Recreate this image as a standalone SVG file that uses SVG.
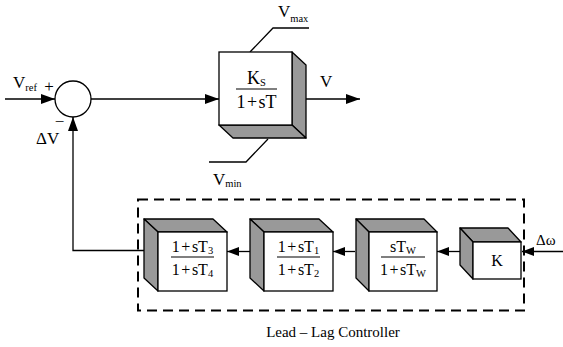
<svg xmlns="http://www.w3.org/2000/svg" width="563" height="347" viewBox="0 0 563 347" font-family="'Liberation Serif', 'DejaVu Serif', serif">
<style>
  text { font-family: "Liberation Serif", "DejaVu Serif", serif; fill: #000; }
  .lbl { font-size: 17px; }
  .fr { font-size: 16px; text-anchor: middle; }
  .frb { font-size: 18px; text-anchor: middle; }
  .sub { font-size: 10.5px; }
  .front { fill: #fff; stroke: #000; stroke-width: 1.3; }
  .side { fill: #999; stroke: #000; stroke-width: 1.3; stroke-linejoin: round; }
  .wire { fill: none; stroke: #000; stroke-width: 1.3; }
  .fline { stroke: #000; stroke-width: 1.2; }
</style>
<defs>
  <marker id="ah" viewBox="0 0 14 10" refX="14" refY="5" markerWidth="14" markerHeight="10" markerUnits="userSpaceOnUse" orient="auto">
    <path d="M0,0 L14,5 L0,10 z" fill="#000"/>
  </marker>
  <marker id="ahs" viewBox="0 0 12 9" refX="12" refY="4.5" markerWidth="12" markerHeight="9" markerUnits="userSpaceOnUse" orient="auto">
    <path d="M0,0 L12,4.5 L0,9 z" fill="#000"/>
  </marker>
</defs>

<!-- dashed controller frame -->
<g id="frame">
  <rect x="138" y="199.5" width="386" height="111" fill="none" stroke="#000" stroke-width="2" stroke-dasharray="10 6"/>
  <text x="333" y="337" font-size="15" text-anchor="middle">Lead – Lag Controller</text>
</g>

<g id="connectors">
  <line class="wire" x1="5" y1="99" x2="55" y2="99" marker-end="url(#ah)"/>
  <line class="wire" x1="91" y1="99" x2="219" y2="99" marker-end="url(#ah)"/>
  <line class="wire" x1="306" y1="99" x2="360" y2="99" marker-end="url(#ah)"/>
  <path class="wire" d="M144,250.5 H73 V117" marker-end="url(#ah)"/>
  <line class="wire" x1="460" y1="251.5" x2="437" y2="251.5" marker-end="url(#ahs)"/>
  <line class="wire" x1="355" y1="251.5" x2="333" y2="251.5" marker-end="url(#ahs)"/>
  <line class="wire" x1="250" y1="251.5" x2="227" y2="251.5" marker-end="url(#ahs)"/>
  <line class="wire" x1="563" y1="251.5" x2="522" y2="251.5" marker-end="url(#ahs)"/>
  <polyline class="wire" points="250,52 273,28 309,28"/>
  <polyline class="wire" points="268,139 246,162 209,162"/>
</g>

<g id="sum">
  <circle cx="73" cy="99" r="18" fill="#fff" stroke="#000" stroke-width="1.3"/>
  <text class="lbl" x="49" y="92" text-anchor="middle">+</text>
  <text class="lbl" x="59.5" y="127" text-anchor="middle">−</text>
</g>

<g id="labels">
  <text class="lbl" x="13" y="88">V<tspan class="sub" dy="3">ref</tspan></text>
  <text class="lbl" x="36" y="144">ΔV</text>
  <text class="lbl" x="278" y="17">V<tspan class="sub" dy="5">max</tspan></text>
  <text class="lbl" x="213" y="185">V<tspan class="sub" dy="2">min</tspan></text>
  <text class="lbl" x="320" y="87">V</text>
  <text x="536" y="245" font-size="15">Δω</text>
</g>

<g id="limiter">
  <polygon class="side" points="292,52 306,65 306,138 292,125"/>
  <polygon class="side" points="219,125 292,125 306,138 233,138"/>
  <rect class="front" x="219" y="52" width="73" height="73"/>
  <text class="frb" x="256.5" y="84">K<tspan class="sub" dy="2">S</tspan></text>
  <line class="fline" x1="236" y1="89" x2="277" y2="89"/>
  <text class="frb" x="256.5" y="108">1<tspan dx="1.5">+</tspan><tspan dx="1.5">sT</tspan></text>
</g>

<g id="leadlag2">
  <polygon class="side" points="144,219 213,219 227,232 158,232"/>
  <polygon class="side" points="144,219 158,232 158,291 144,278"/>
  <rect class="front" x="158" y="232" width="69" height="59"/>
  <text class="fr" x="192.5" y="252">1<tspan dx="1.5">+</tspan><tspan dx="1.5">sT</tspan><tspan class="sub" dy="2">3</tspan></text>
  <line class="fline" x1="171" y1="257" x2="214" y2="257"/>
  <text class="fr" x="192.5" y="275">1<tspan dx="1.5">+</tspan><tspan dx="1.5">sT</tspan><tspan class="sub" dy="2">4</tspan></text>
</g>

<g id="leadlag1">
  <polygon class="side" points="250,219 319,219 333,232 264,232"/>
  <polygon class="side" points="250,219 264,232 264,291 250,278"/>
  <rect class="front" x="264" y="232" width="69" height="59"/>
  <text class="fr" x="298.5" y="252">1<tspan dx="1.5">+</tspan><tspan dx="1.5">sT</tspan><tspan class="sub" dy="2">1</tspan></text>
  <line class="fline" x1="277" y1="257" x2="320" y2="257"/>
  <text class="fr" x="298.5" y="275">1<tspan dx="1.5">+</tspan><tspan dx="1.5">sT</tspan><tspan class="sub" dy="2">2</tspan></text>
</g>

<g id="washout">
  <polygon class="side" points="356,219 424,219 437,232 369,232"/>
  <polygon class="side" points="356,219 369,232 369,291 356,278"/>
  <rect class="front" x="369" y="232" width="68" height="59"/>
  <text class="fr" x="403" y="252">sT<tspan class="sub" dy="2">W</tspan></text>
  <line class="fline" x1="381" y1="257" x2="425" y2="257"/>
  <text class="fr" x="403" y="275">1<tspan dx="1.5">+</tspan><tspan dx="1.5">sT</tspan><tspan class="sub" dy="2">W</tspan></text>
</g>

<g id="gain">
  <polygon class="side" points="460,228 508,228 521,242 473,242"/>
  <polygon class="side" points="460,228 473,242 473,279 460,265"/>
  <rect class="front" x="473" y="242" width="48" height="37"/>
  <text class="fr" x="497" y="266">K</text>
</g>
</svg>
